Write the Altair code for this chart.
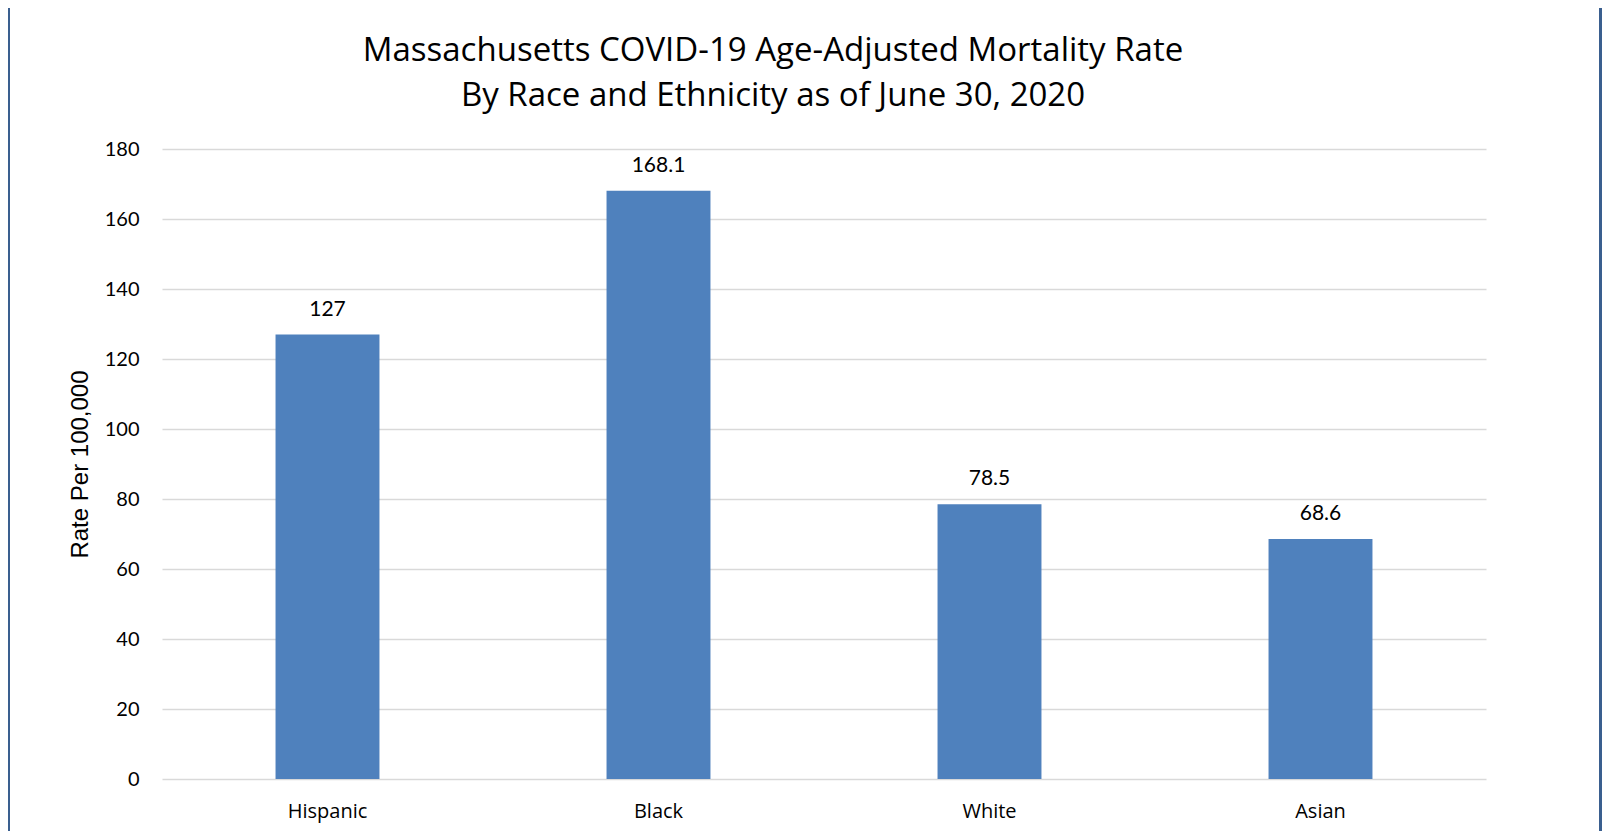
import altair as alt
import pandas as pd

categories = ["Hispanic", "Black", "White", "Asian"]
rates = [127, 168.1, 78.5, 68.6]
rate_labels = ["127", "168.1", "78.5", "68.6"]
y_ticks = [0, 20, 40, 60, 80, 100, 120, 140, 160, 180]
title_lines = ["Massachusetts COVID-19 Age-Adjusted Mortality Rate",
               "By Race and Ethnicity as of June 30, 2020"]
y_title = "Rate Per 100,000"

df = pd.DataFrame({"cat": categories, "rate": rates, "label": rate_labels})

W, H = 1324, 630
PL, PT, PR, PB = 154, 141, 116, 52

x_enc = alt.X("cat:N", sort=categories, title=None,
              scale=alt.Scale(paddingInner=0.686, paddingOuter=0.343),
              axis=alt.Axis(labelAngle=0, labelFont="Open Sans", labelFontSize=20,
                            labelColor="#000000", labelPadding=22, ticks=False,
                            domain=False, grid=False))
y_enc = alt.Y("rate:Q", title=y_title,
              scale=alt.Scale(domain=[0, 180], nice=False),
              axis=alt.Axis(values=y_ticks, labelFont="Lato", labelFontSize=20,
                            labelColor="#000000", labelPadding=23, ticks=False,
                            domain=False, gridColor="#D9D9D9", gridWidth=1.6,
                            titleFont="Liberation Sans", titleFontSize=24,
                            titleFontWeight="normal", titleColor="#000000",
                            titleX=-70, titleY=H / 2))

bars = alt.Chart(df).mark_bar(color="#4F81BD").encode(x=x_enc, y=y_enc)
labels = alt.Chart(df).mark_text(font="Lato", fontSize=21, color="#000000",
                                 baseline="alphabetic", dy=-19).encode(
    x=alt.X("cat:N", sort=categories), y="rate:Q", text="label:N")

frame_df = pd.DataFrame({"k": ["l", "r"]})
left_strip = alt.Chart(frame_df).transform_filter("datum.k == 'l'").mark_rect(
    color="#3A5F8F").encode(x=alt.value(-PL), x2=alt.value(-PL + 2),
                            y=alt.value(-PT), y2=alt.value(H + PB))
right_strip = alt.Chart(frame_df).transform_filter("datum.k == 'r'").mark_rect(
    color="#3A5F8F").encode(x=alt.value(W + PR - 3), x2=alt.value(W + PR),
                            y=alt.value(-PT), y2=alt.value(H + PB))

chart = alt.layer(bars, labels, left_strip, right_strip).properties(
    width=W, height=H,
    title=alt.TitleParams(text=title_lines, font="Open Sans", fontSize=33,
                          fontWeight="normal", color="#000000", anchor="middle",
                          baseline="alphabetic", lineHeight=45, dx=-51,
                          offset=0, dy=PT - 10),
    autosize=alt.AutoSizeParams(type="none"),
    padding={"left": PL, "top": PT, "right": PR, "bottom": PB},
    background="#FFFFFF",
).configure_view(stroke=None)

chart.save("out.html", embed_options={"renderer": "svg", "actions": False})
